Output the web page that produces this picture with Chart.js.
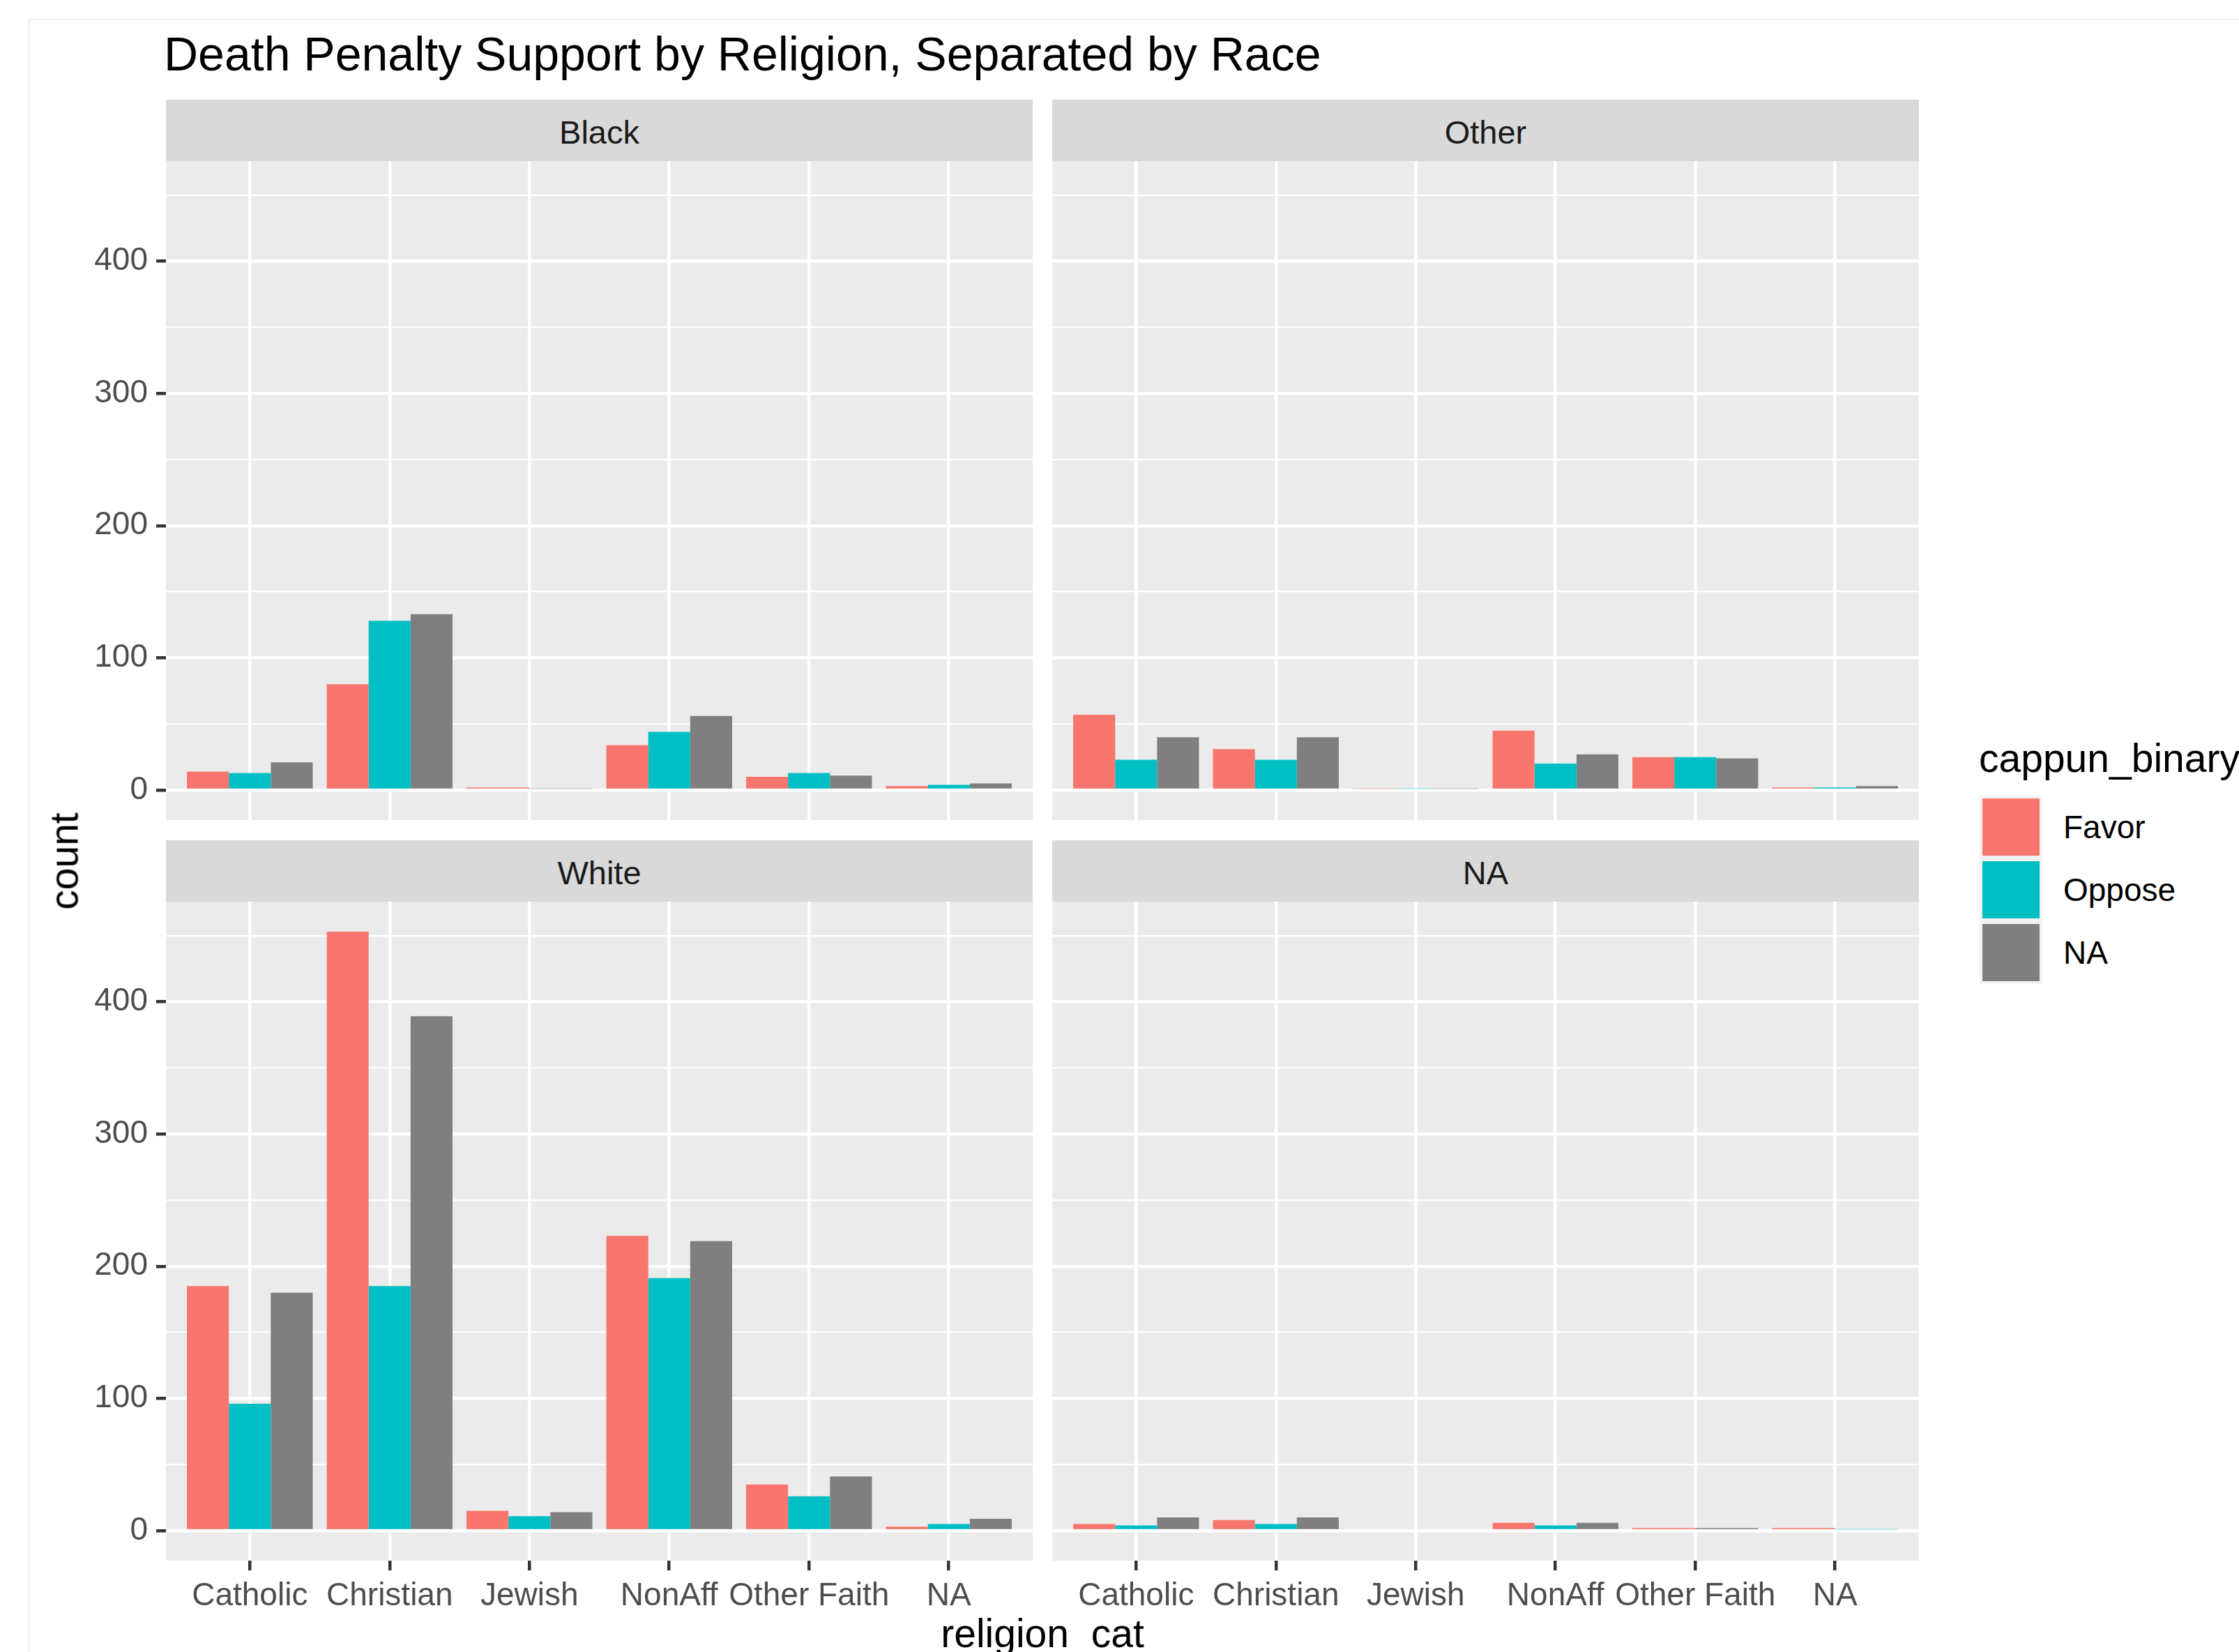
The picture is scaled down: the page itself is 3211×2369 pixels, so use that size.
<!DOCTYPE html>
<html>
<head>
<meta charset="utf-8">
<title>Death Penalty Support by Religion, Separated by Race</title>
<script src="https://cdn.jsdelivr.net/npm/chart.js@4/dist/chart.umd.min.js"></script>
<style>
  html, body { margin: 0; padding: 0; background: #ffffff; }
  body {
    width: 3211px; height: 2369px; position: relative; overflow: hidden;
    font-family: 'Liberation Sans', Arial, Helvetica, sans-serif;
  }
  .frame {
    position: absolute; left: 41px; top: 27px; right: 0; bottom: 0;
    border-left: 2px solid #efefef; border-top: 2px solid #efefef;
  }
  .txt { position: absolute; white-space: nowrap; }
  .title { left: 235px; top: 43px; font-size: 68px; line-height: 68px; color: #000; }
  .strip {
    position: absolute; background: #d9d9d9; color: #1a1a1a;
    font-size: 47px; line-height: 47px;
    display: flex; align-items: center; justify-content: center;
  }
  .strip span { position: relative; top: 2px; }
  .axis-title { font-size: 57px; line-height: 57px; color: #000; }
  .ytitle { left: 92px; top: 1234.5px; transform: translate(-50%, -50%) rotate(-90deg); }
  .xtitle { left: 1495px; top: 2314px; transform: translateX(-50%); }
  .legend-title { left: 2838px; top: 1059px; font-size: 57px; line-height: 57px; color: #000; }
  .key { position: absolute; left: 2839px; width: 90px; height: 90px; background: #f2f2f2; }
  .key span { position: absolute; left: 4px; top: 4px; right: 4px; bottom: 4px; }
  .key-label { position: absolute; left: 2959px; font-size: 46px; line-height: 46px; color: #000; white-space: nowrap; }
  canvas { position: absolute; }
</style>
</head>
<body>
<div class="frame"></div>
<div class="txt title">Death Penalty Support by Religion, Separated by Race</div>

<div class="strip" id="strip0" style="left:238px; top:143px; width:1243px; height:88px;"></div>
<div class="strip" id="strip1" style="left:1509px; top:143px; width:1243px; height:88px;"></div>
<div class="strip" id="strip2" style="left:238px; top:1205px; width:1243px; height:88px;"></div>
<div class="strip" id="strip3" style="left:1509px; top:1205px; width:1243px; height:88px;"></div>

<canvas id="panel0" width="1481" height="945" style="left:0px; top:231px;"></canvas>
<canvas id="panel1" width="1243" height="945" style="left:1509px; top:231px;"></canvas>
<canvas id="panel2" width="1481" height="1045" style="left:0px; top:1293px;"></canvas>
<canvas id="panel3" width="1243" height="1045" style="left:1509px; top:1293px;"></canvas>

<div class="txt axis-title ytitle">count</div>
<div class="txt axis-title xtitle">religion_cat</div>

<div class="txt legend-title">cappun_binary</div>
<div id="legend"></div>

<script>
// Religion categories along the x axis of every facet
const categories = ['Catholic', 'Christian', 'Jewish', 'NonAff', 'Other Faith', 'NA'];
// Fill groups (cappun_binary) and their colours
const responses = ['Favor', 'Oppose', 'NA'];
const responseColors = ['#F8766D', '#00BFC4', '#7F7F7F'];
// Facets (race)
const races = ['Black', 'Other', 'White', 'NA'];

// Counts per religion; null = group absent in that facet/religion
const blackFavor  = [14, 80, 2, 34, 10, 3];
const blackOppose = [13, 128, null, 44, 13, 4];
const blackNA     = [21, 133, 1, 56, 11, 5];

const otherFavor  = [57, 31, 1, 45, 25, 2];
const otherOppose = [23, 23, 1, 20, 25, 2];
const otherNA     = [40, 40, 1, 27, 24, 3];

const whiteFavor  = [185, 453, 15, 223, 35, 3];
const whiteOppose = [96, 185, 11, 191, 26, 5];
const whiteNA     = [180, 389, 14, 219, 41, 9];

const naFavor     = [5, 8, null, 6, 2, 2];
const naOppose    = [4, 5, null, 4, null, 1];
const naNA        = [10, 10, null, 6, 2, null];

// y axis tick labels and minor grid values
const yMajorTicks = [0, 100, 200, 300, 400];
const yMinorTicks = [50, 150, 250, 350, 450];

const facetSeries = [
  [blackFavor, blackOppose, blackNA],
  [otherFavor, otherOppose, otherNA],
  [whiteFavor, whiteOppose, whiteNA],
  [naFavor, naOppose, naNA]
];

// Shared y range: data range with 5% padding on both sides
const allValues = facetSeries.flat(2).filter(v => v !== null);
const dataMax = Math.max(...allValues);
const dataMin = Math.min(0, ...allValues);
const yPad = (dataMax - dataMin) * 0.05;
const yMin = dataMin - yPad;
const yMax = dataMax + yPad;
// Discrete x range: 0.6 of a category added each side
const xMin = 1 - 0.6;
const xMax = categories.length + 0.6;

Chart.defaults.font.family = "'Liberation Sans', Arial, Helvetica, sans-serif";

const panelBackground = {
  id: 'panelBackground',
  beforeDraw(chart) {
    const { ctx, chartArea: a } = chart;
    ctx.save();
    ctx.fillStyle = '#ebebeb';
    ctx.fillRect(a.left, a.top, a.right - a.left, a.bottom - a.top);
    ctx.restore();
  }
};

const MAJOR_W = 4.5;
const MINOR_W = 2.2;
const isMajor = (tick) => tick && yMajorTicks.includes(tick.value);

// Axes keep a fixed size and add no extra padding to the plotting area
function fixAxis(s, width, height) {
  if (width !== null) s.width = width;
  if (height !== null) s.height = height;
  s.paddingLeft = 0;
  s.paddingRight = 0;
  s.paddingTop = 0;
  s.paddingBottom = 0;
}

function makePanel(idx, showY, showX) {
  const strip = document.getElementById('strip' + idx);
  const label = document.createElement('span');
  label.textContent = races[idx];
  strip.appendChild(label);

  const series = facetSeries[idx];
  return new Chart(document.getElementById('panel' + idx), {
    type: 'bar',
    data: {
      datasets: series.map((vals, k) => ({
        label: responses[k],
        data: vals.map((v, i) => ({ x: i + 1, y: v })),
        backgroundColor: responseColors[k],
        borderWidth: 0,
        skipNull: true,
        categoryPercentage: 0.9,
        barPercentage: 1.0
      }))
    },
    options: {
      responsive: false,
      animation: false,
      devicePixelRatio: 1,
      layout: { padding: 0, autoPadding: false },
      plugins: {
        legend: { display: false },
        tooltip: { enabled: false },
        title: { display: false }
      },
      scales: {
        x: {
          type: 'linear',
          min: xMin,
          max: xMax,
          offset: false,
          afterBuildTicks: (s) => { s.ticks = categories.map((c, i) => ({ value: i + 1 })); },
          afterFit: (s) => fixAxis(s, null, showX ? 100 : 0),
          border: { display: false },
          grid: {
            offset: false,
            color: '#ffffff',
            lineWidth: MAJOR_W,
            drawTicks: showX,
            tickLength: 14,
            tickColor: '#333333',
            tickWidth: MAJOR_W
          },
          ticks: {
            display: showX,
            autoSkip: false,
            maxRotation: 0,
            padding: 10,
            color: '#4d4d4d',
            font: { size: 46 },
            callback: (v) => categories[Math.round(v) - 1]
          }
        },
        y: {
          type: 'linear',
          min: yMin,
          max: yMax,
          afterBuildTicks: (s) => {
            s.ticks = [...yMajorTicks, ...yMinorTicks].sort((a, b) => a - b).map(v => ({ value: v }));
          },
          afterFit: (s) => fixAxis(s, showY ? 238 : 0, null),
          border: { display: false },
          grid: {
            offset: false,
            color: '#ffffff',
            lineWidth: (ctx) => isMajor(ctx.tick) ? MAJOR_W : MINOR_W,
            drawTicks: showY,
            tickLength: 14,
            tickColor: (ctx) => isMajor(ctx.tick) ? '#333333' : 'rgba(0,0,0,0)',
            tickWidth: MAJOR_W
          },
          ticks: {
            display: showY,
            padding: 12,
            color: '#4d4d4d',
            font: { size: 46 },
            callback: (v) => yMajorTicks.includes(v) ? String(v) : ''
          }
        }
      }
    },
    plugins: [panelBackground]
  });
}

makePanel(0, true, false);
makePanel(1, false, false);
makePanel(2, true, true);
makePanel(3, false, true);

// Legend keys for the fill groups
const legend = document.getElementById('legend');
responses.forEach((name, k) => {
  const top = 1141 + k * 90;
  const key = document.createElement('div');
  key.className = 'key';
  key.style.top = top + 'px';
  const sw = document.createElement('span');
  sw.style.background = responseColors[k];
  key.appendChild(sw);
  legend.appendChild(key);
  const label = document.createElement('div');
  label.className = 'key-label';
  label.style.top = (top + 45 - 23) + 'px';
  label.textContent = name;
  legend.appendChild(label);
});
</script>
</body>
</html>
